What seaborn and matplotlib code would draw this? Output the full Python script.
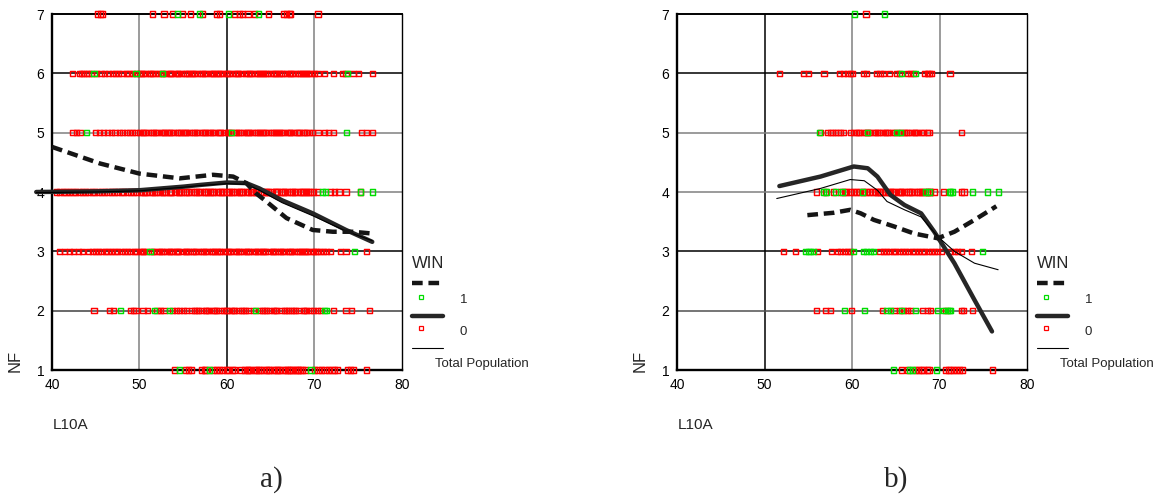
import pandas as pd
import seaborn as sns
import matplotlib.pyplot as plt
from matplotlib.lines import Line2D

# ---- scatter data: L10A values at each NF level, WIN = 0 (red) / 1 (green) ----

# panel a)
a7_lose = [45.2, 45.5, 45.8, 51.5, 52.8, 53.8, 54.9, 55.8, 57.2, 58.8, 59.1, 60.9, 61.4,
           61.8, 62.4, 63.1, 64.7, 66.5, 66.8, 67.1, 67.3, 70.4]
a7_win = [54.3, 56.9, 60.2, 63.6]
a6_lose = [42.3, 43.1, 43.4, 43.6, 43.9, 44.2, 44.5, 45.1, 45.6, 46.0, 46.5, 46.9, 47.3,
           47.6, 48.0, 48.5, 48.8, 49.2, 49.7, 50.0, 50.4, 50.7, 51.1, 51.5, 51.8, 52.2,
           52.7, 53.0, 53.4, 53.7, 54.1, 54.5, 54.8, 55.2, 55.6, 55.9, 56.3, 56.6, 57.0,
           57.4, 57.7, 58.1, 58.5, 58.8, 59.2, 59.5, 59.9, 60.3, 60.6, 61.0, 61.3, 61.7,
           62.1, 62.4, 62.8, 63.2, 63.5, 63.9, 64.2, 64.6, 65.0, 65.3, 65.7, 66.0, 66.4,
           66.8, 67.1, 67.5, 67.8, 68.2, 68.6, 68.9, 69.3, 69.6, 70.0, 70.4, 71.1, 72.2,
           73.2, 73.6, 74.4, 75.0, 76.6,
           50.2, 51.3, 52.5, 53.5, 54.3, 55.4, 56.1, 57.2, 58.3, 59.0, 60.1, 61.2, 62.6,
           63.7, 64.4, 65.5, 66.2, 67.3, 68.4, 69.1]
a6_win = [44.8, 49.6, 52.6, 73.8]
a5_lose = [42.4, 42.8, 43.2, 45.0, 45.4, 45.9, 46.3, 46.8, 47.2, 47.7, 48.1, 48.5, 48.9,
           49.2, 49.6, 50.0, 50.3, 50.7, 51.0, 51.4, 51.8, 52.1, 52.5, 52.9, 53.2, 53.6,
           53.9, 54.3, 54.7, 55.0, 55.4, 55.7, 56.1, 56.5, 56.8, 57.2, 57.5, 57.9, 58.3,
           58.6, 59.0, 59.3, 59.7, 60.1, 60.4, 60.8, 61.1, 61.5, 61.9, 62.2, 62.6, 62.9,
           63.3, 63.7, 64.0, 64.4, 64.7, 65.1, 65.5, 65.8, 66.2, 66.5, 66.9, 67.3, 67.6,
           68.0, 68.3, 68.7, 69.1, 69.4, 69.8, 70.4, 71.1, 71.6, 72.2, 75.4, 75.9, 76.6,
           50.5, 51.6, 52.7, 53.4, 54.5, 55.2, 56.3, 57.4, 58.1, 59.2, 60.2, 61.3, 62.4,
           63.5, 64.2, 65.3, 66.0, 67.1, 68.2, 68.9]
a5_win = [43.9, 60.5, 73.7]
a4_lose = [40.5, 40.9, 41.3, 41.6, 42.0, 42.4, 42.7, 43.1, 43.5, 43.8, 44.2, 44.6, 44.9,
           45.3, 45.7, 46.0, 46.4, 46.8, 47.1, 47.5, 47.9, 48.2, 48.6, 49.0, 49.3, 49.7,
           50.1, 50.4, 50.8, 51.2, 51.5, 51.9, 52.3, 52.6, 53.0, 53.4, 53.7, 54.1, 54.5,
           54.8, 55.2, 55.6, 55.9, 56.3, 56.7, 57.0, 57.4, 57.8, 58.1, 58.5, 58.9, 59.2,
           59.6, 60.0, 60.3, 60.7, 61.1, 61.4, 61.8, 62.2, 62.5, 62.9, 63.3, 63.6, 64.0,
           64.4, 64.7, 65.1, 65.5, 65.8, 66.2, 66.6, 66.9, 67.3, 67.7, 68.0, 68.4, 68.8,
           69.1, 69.5, 69.9, 70.3, 71.8, 72.3, 72.8, 73.6, 75.3,
           50.6, 51.7, 52.8, 53.5, 54.6, 55.4, 56.5, 57.6, 58.3, 59.4, 60.5, 61.6, 62.7,
           63.4, 64.5, 65.6, 66.4, 67.5, 68.6, 69.3]
a4_win = [70.9, 71.3, 75.3, 76.6]
a3_lose = [40.9, 41.4, 42.0, 42.5, 43.0, 43.5, 44.2, 44.6, 45.0, 45.3, 45.7, 46.1, 46.4,
           46.8, 47.2, 47.5, 47.9, 48.3, 48.6, 49.0, 49.4, 49.7, 50.1, 50.5, 50.8, 51.6,
           52.0, 52.3, 52.7, 53.1, 53.4, 53.8, 54.2, 54.5, 54.9, 55.3, 55.6, 56.0, 56.4,
           56.7, 57.1, 57.5, 57.8, 58.2, 58.6, 58.9, 59.3, 59.7, 60.0, 60.4, 60.8, 61.1,
           61.5, 61.9, 62.2, 62.6, 63.0, 63.3, 63.7, 64.1, 64.4, 64.8, 65.2, 65.5, 65.9,
           66.3, 66.6, 67.0, 67.4, 67.7, 68.1, 68.5, 68.8, 69.2, 69.6, 69.9, 70.3, 70.7,
           71.0, 71.4, 71.8, 73.0, 73.6, 75.9,
           50.3, 51.4, 52.5, 53.6, 54.3, 55.4, 56.2, 57.3, 58.4, 59.1, 60.2, 61.3, 62.4,
           63.5, 64.2, 65.3, 66.1, 67.2, 68.3, 69.0, 70.1]
a3_win = [51.2, 74.6]
a2_lose = [44.8, 46.6, 47.0, 49.0, 49.3, 49.6, 50.4, 50.9, 52.0, 52.4, 52.8, 53.8, 54.2,
           54.6, 55.0, 55.4, 55.9, 56.3, 56.7, 57.1, 57.5, 57.9, 58.4, 58.8, 59.2, 59.6,
           60.0, 60.5, 60.9, 61.3, 61.7, 62.1, 62.5, 63.0, 63.7, 64.1, 64.5, 64.9, 65.3,
           65.7, 66.2, 66.6, 67.0, 67.4, 67.8, 68.2, 68.7, 69.1, 69.5, 69.9, 70.3, 70.7,
           72.2, 73.6, 74.2, 76.3,
           56.5, 57.7, 58.6, 59.9, 60.7, 61.9, 64.3, 65.5, 66.8, 67.6, 68.9]
a2_win = [47.8, 51.7, 53.4, 63.3, 71.1, 71.4]
a1_lose = [54.0, 55.3, 55.6, 55.9, 57.1, 57.4, 57.6, 58.4, 58.8, 59.1, 59.5, 59.9, 60.2,
           60.6, 60.9, 61.6, 62.0, 62.3, 62.7, 63.1, 63.4, 63.8, 64.2, 64.5, 64.9, 65.3,
           65.6, 66.0, 66.4, 66.7, 67.1, 67.5, 67.8, 68.2, 68.6, 69.0, 70.0, 70.4, 70.8,
           71.2, 71.6, 72.0, 72.3, 72.6, 73.8, 74.1, 74.5, 75.9,
           62.5, 63.6, 64.7, 65.8, 66.9, 67.3, 68.0, 68.4]
a1_win = [54.6, 58.0, 69.6]

# panel b)
b7_lose = [61.6]
b7_win = [60.3, 63.7]
b6_lose = [51.7, 54.5, 55.0, 56.8, 58.6, 59.0, 59.5, 59.8, 60.1, 61.3, 61.7, 62.8, 63.2,
           63.6, 64.3, 65.1, 65.4, 66.3, 66.7, 67.0, 68.3, 68.6, 68.8, 69.1, 71.2]
b6_win = [65.7, 67.3]
b5_lose = [56.4, 57.2, 57.5, 57.8, 58.1, 58.4, 58.7, 59.0, 59.8, 60.2, 60.5, 60.9, 61.3,
           61.6, 62.0, 62.4, 62.7, 63.1, 63.5, 63.8, 64.2, 64.6, 64.9, 65.3, 65.7, 66.0,
           66.4, 66.8, 67.1, 67.5, 67.9, 68.2, 68.6, 68.8, 72.5,
           60.7, 61.8, 62.9, 64.0, 66.2, 67.3]
b5_win = [56.3, 61.8, 65.1, 65.5]
b4_lose = [55.9, 57.0, 57.9, 58.7, 59.1, 59.4, 59.8, 60.2, 60.5, 60.9, 61.3, 61.6, 62.0,
           62.4, 62.7, 63.1, 63.5, 63.8, 64.2, 64.6, 64.9, 65.3, 65.7, 66.0, 66.4, 66.8,
           67.1, 67.5, 67.9, 68.2, 68.6, 69.0, 69.4, 70.5, 72.5, 72.8,
           62.9, 63.3, 64.4, 65.5, 66.6, 67.7, 68.8]
b4_win = [56.7, 57.1, 58.1, 58.9, 61.2, 68.4, 68.8, 71.1, 71.3, 71.5, 73.8, 75.5, 76.7]
b3_lose = [52.2, 53.5, 56.1, 57.7, 58.3, 58.7, 59.1, 59.5, 59.8, 63.2, 63.6, 63.9, 64.3,
           64.7, 65.0, 65.4, 65.8, 66.1, 66.5, 66.9, 67.2, 67.6, 68.0, 68.3, 68.7, 69.1,
           69.4, 69.8, 70.2, 71.3, 71.7, 72.1, 72.5, 73.7]
b3_win = [54.7, 55.0, 55.3, 55.6, 60.2, 61.3, 61.7, 62.1, 62.5, 74.9]
b2_lose = [55.9, 57.0, 57.5, 59.9, 63.5, 64.8, 65.4, 65.9, 66.3, 66.7, 68.1, 68.6, 69.0,
           70.7, 72.5, 72.7, 73.8]
b2_win = [59.1, 61.4, 64.0, 64.4, 65.7, 67.3, 69.8, 70.5, 70.9, 71.1, 71.3]
b1_lose = [65.7, 66.3, 67.3, 67.6, 67.9, 68.2, 68.6, 68.8, 70.7, 71.0, 71.3, 71.6, 71.9,
           72.3, 72.6, 76.1]
b1_win = [64.7, 66.6, 66.9, 69.7]

# ---- fit curves ----
a_win1_x = [40.0, 45.5, 50.0, 54.6, 58.4, 60.7, 62.2, 63.3, 64.5, 66.8, 69.8, 72.1, 74.4, 76.6]
a_win1_y = [4.76, 4.48, 4.31, 4.23, 4.29, 4.26, 4.15, 3.98, 3.84, 3.56, 3.36, 3.33, 3.33, 3.30]
a_win0_x = [38.2, 45.0, 50.0, 55.0, 57.0, 60.0, 62.2, 63.7, 66.3, 69.8, 73.6, 76.6]
a_win0_y = [4.00, 4.01, 4.03, 4.09, 4.12, 4.16, 4.15, 4.06, 3.86, 3.64, 3.36, 3.16]
a_total_x = [38.2, 45.0, 50.0, 55.0, 57.0, 60.0, 62.2, 63.7, 66.3, 69.8, 73.6, 76.6]
a_total_y = [3.99, 4.00, 4.02, 4.08, 4.11, 4.14, 4.13, 4.03, 3.82, 3.60, 3.34, 3.18]

b_win1_x = [54.9, 57.9, 59.8, 61.0, 62.5, 64.8, 67.1, 69.8, 71.7, 74.0, 76.5]
b_win1_y = [3.61, 3.65, 3.70, 3.64, 3.53, 3.42, 3.30, 3.22, 3.33, 3.53, 3.76]
b_win0_x = [51.7, 56.4, 60.2, 61.8, 62.9, 64.4, 66.0, 67.9, 69.4, 71.7, 74.0, 76.0]
b_win0_y = [4.10, 4.26, 4.43, 4.40, 4.26, 3.95, 3.78, 3.64, 3.33, 2.80, 2.18, 1.65]
b_total_x = [51.4, 56.4, 59.8, 61.4, 62.9, 64.0, 66.0, 67.9, 69.8, 71.7, 74.0, 76.7]
b_total_y = [3.89, 4.06, 4.21, 4.19, 4.03, 3.84, 3.70, 3.58, 3.25, 3.00, 2.80, 2.69]

x_ticks = [40, 50, 60, 70, 80]
y_ticks = [1, 2, 3, 4, 5, 6, 7]

RED = '#ff0000'
GREEN = '#00dd00'

W, H = 1160, 497


def fx(x):
    return x / W


def fy(y):
    return 1 - y / H


def make_points(levels):
    rows = []
    for nf, lose, win in levels:
        rows += [(v, nf, 0) for v in lose]
    for nf, lose, win in levels:
        rows += [(v, nf, 1) for v in win]
    return pd.DataFrame(rows, columns=['L10A', 'NF', 'WIN'])


def draw_panel(fig, left_px, points, curves, vgrid, hgrid, tag):
    ax = fig.add_axes([fx(left_px), fy(370), 350 / W, 356 / H])

    # grid lines, mixed black / grey like the original
    for xv, c in zip([50, 60, 70], vgrid):
        ax.axvline(xv, color=c, lw=1.1, zorder=0)
    for yv, c in zip([2, 3, 4, 5, 6], hgrid):
        ax.axhline(yv, color=c, lw=1.1, zorder=0)

    sns.scatterplot(data=points, x='L10A', y='NF', hue='WIN',
                    palette={0: RED, 1: GREEN}, marker='s', s=14,
                    linewidth=1.05, legend=False, ax=ax, clip_on=False, zorder=3)
    pts = ax.collections[-1]
    pts.set_edgecolors(pts.get_facecolors())
    pts.set_facecolors('none')

    (w1x, w1y), (w0x, w0y), (tx, ty) = curves
    sns.lineplot(x=w0x, y=w0y, ax=ax, color='#262626', lw=3.2, sort=False,
                 estimator=None, clip_on=False, zorder=4)
    sns.lineplot(x=tx, y=ty, ax=ax, color='black', lw=0.8, sort=False,
                 estimator=None, clip_on=False, zorder=5)
    sns.lineplot(x=w1x, y=w1y, ax=ax, color='#151515', lw=3.2, sort=False,
                 estimator=None, clip_on=False, zorder=5,
                 linestyle=(0, (2.4, 1.3)), dash_capstyle='butt')

    ax.set_xlim(40, 80)
    ax.set_ylim(1, 7)
    ax.set_xticks(x_ticks)
    ax.set_yticks(y_ticks)
    ax.set_xlabel('')
    ax.set_ylabel('')
    ax.tick_params(axis='both', length=2.5, width=1.5, direction='out',
                   labelsize=10, colors='black')
    ax.tick_params(axis='y', pad=3)
    ax.tick_params(axis='x', pad=3)
    for side in ['left', 'bottom']:
        ax.spines[side].set_linewidth(1.7)
    ax.spines['top'].set_linewidth(1.4)
    ax.spines['right'].set_linewidth(1.0)
    for sp in ax.spines.values():
        sp.set_color('black')
        sp.set_zorder(2)

    dx = left_px - 52
    fig.text(fx(15.6 + dx), fy(361), 'NF', rotation=90, ha='center', va='center', fontsize=12)
    fig.text(fx(52.7 + dx), fy(425), 'L10A', ha='left', va='center', fontsize=11)
    fig.text(fx(271 + dx), fy(480), tag, ha='center', va='center', fontsize=21,
             family=['Liberation Serif', 'DejaVu Serif'])

    # SPSS style legend
    lx0, lx1 = fx(411.7 + dx), fx(442.7 + dx)
    fig.text(fx(411.7 + dx), fy(263.3), 'WIN', ha='left', va='center', fontsize=12)
    fig.add_artist(Line2D([lx0, lx1], [fy(282.7)] * 2, color='#151515', lw=3.2,
                          linestyle=(0, (2.4, 1.3)), dash_capstyle='butt'))
    fig.add_artist(Line2D([fx(421 + dx)], [fy(296.7)], marker='s', ms=3.4,
                          mfc='none', mec=GREEN, mew=0.9, ls='none'))
    fig.text(fx(463.3 + dx), fy(300), '1', ha='center', va='center', fontsize=9.5)
    fig.add_artist(Line2D([lx0, lx1], [fy(316)] * 2, color='#262626', lw=3.2))
    fig.add_artist(Line2D([fx(421 + dx)], [fy(328.3)], marker='s', ms=3.4,
                          mfc='none', mec=RED, mew=0.9, ls='none'))
    fig.text(fx(463.3 + dx), fy(331.7), '0', ha='center', va='center', fontsize=9.5)
    fig.add_artist(Line2D([lx0, lx1], [fy(347.7)] * 2, color='black', lw=0.8))
    fig.text(fx(435 + dx), fy(364), 'Total Population', ha='left', va='center', fontsize=9.5)
    return ax


sns.set_style('white')
plt.rcParams['font.family'] = ['Liberation Sans', 'DejaVu Sans']

fig = plt.figure(figsize=(W / 100, H / 100), dpi=100)

points_a = make_points([(7, a7_lose, a7_win), (6, a6_lose, a6_win), (5, a5_lose, a5_win),
                        (4, a4_lose, a4_win), (3, a3_lose, a3_win), (2, a2_lose, a2_win),
                        (1, a1_lose, a1_win)])
points_b = make_points([(7, b7_lose, b7_win), (6, b6_lose, b6_win), (5, b5_lose, b5_win),
                        (4, b4_lose, b4_win), (3, b3_lose, b3_win), (2, b2_lose, b2_win),
                        (1, b1_lose, b1_win)])

draw_panel(fig, 52, points_a,
           [(a_win1_x, a_win1_y), (a_win0_x, a_win0_y), (a_total_x, a_total_y)],
           ['#808080', 'black', '#808080'],
           ['#404040', 'black', '#808080', '#808080', 'black'], 'a)')
draw_panel(fig, 677, points_b,
           [(b_win1_x, b_win1_y), (b_win0_x, b_win0_y), (b_total_x, b_total_y)],
           ['black', '#808080', '#808080'],
           ['#505050', 'black', '#808080', '#808080', 'black'], 'b)')

fig.savefig('out.png', dpi=100, facecolor='white')
